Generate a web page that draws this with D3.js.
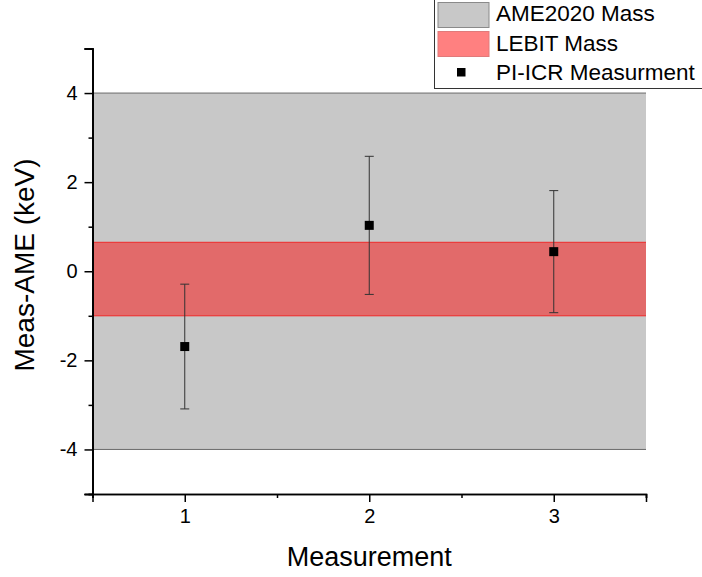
<!DOCTYPE html>
<html>
<head>
<meta charset="utf-8">
<script src="https://cdn.jsdelivr.net/npm/d3@7"></script>
<style>
  html, body { margin: 0; padding: 0; background: #fff; }
  svg { display: block; font-family: "Liberation Sans", Arial, sans-serif; }
</style>
</head>
<body>
<svg id="chart" width="702" height="577"></svg>
<script>
// ---- data ----
const categories = [1, 2, 3];
const values = [-1.69, 1.03, 0.44];
const errors = [1.40, 1.55, 1.37];
const ameRange = [-4, 4];
const lebitRange = [-1.0, 0.65];
const yTickLabels = [-4, -2, 0, 2, 4];
const yMinorTicks = [-5, -3, -1, 1, 3, 5];
const xTickLabels = [1, 2, 3];
const xMinorTicks = [0.5, 1.5, 2.5, 3.5];
const legendLabels = ["AME2020 Mass", "LEBIT Mass", "PI-ICR Measurment"];

// ---- layout ----
const svg = d3.select("#chart");
const x = d3.scaleLinear().domain([0.5, 3.5]).range([92.5, 646]);
const y = d3.scaleLinear().domain([-5, 5]).range([494, 48.5]);
const fmt = d => String(d);

// bands
svg.append("rect")
  .attr("x", x(0.5)).attr("width", x(3.5) - x(0.5))
  .attr("y", y(ameRange[1])).attr("height", y(ameRange[0]) - y(ameRange[1]))
  .attr("fill", "#c8c8c8");
[ameRange[0], ameRange[1]].forEach(v => {
  svg.append("line").attr("x1", x(0.5)).attr("x2", x(3.5))
    .attr("y1", y(v)).attr("y2", y(v))
    .attr("stroke", "#6a6a6a").attr("stroke-width", 1);
});
svg.append("rect")
  .attr("x", x(0.5)).attr("width", x(3.5) - x(0.5))
  .attr("y", y(lebitRange[1])).attr("height", y(lebitRange[0]) - y(lebitRange[1]))
  .attr("fill", "#ff0000").attr("fill-opacity", 0.47);
[lebitRange[0], lebitRange[1]].forEach(v => {
  svg.append("line").attr("x1", x(0.5)).attr("x2", x(3.5))
    .attr("y1", y(v)).attr("y2", y(v))
    .attr("stroke", "#f02828").attr("stroke-width", 1);
});

// error bars
const pts = categories.map((c, i) => ({ c, v: values[i], e: errors[i] }));
const eb = svg.append("g").attr("stroke", "#333").attr("stroke-width", 1);
pts.forEach(p => {
  eb.append("line").attr("x1", x(p.c)).attr("x2", x(p.c))
    .attr("y1", y(p.v + p.e)).attr("y2", y(p.v - p.e));
  [p.v + p.e, p.v - p.e].forEach(v => {
    eb.append("line").attr("x1", x(p.c) - 4.5).attr("x2", x(p.c) + 4.5)
      .attr("y1", y(v)).attr("y2", y(v));
  });
});
svg.append("g").selectAll("rect").data(pts).join("rect")
  .attr("x", d => x(d.c) - 4.5).attr("y", d => y(d.v) - 4.5)
  .attr("width", 9).attr("height", 9).attr("fill", "#000");

// axes
svg.append("g").attr("transform", `translate(${x(0.5)},0)`)
  .call(d3.axisLeft(y).tickValues(yTickLabels).tickSize(8).tickPadding(7).tickFormat(fmt));
svg.append("g").attr("transform", `translate(${x(0.5)},0)`)
  .call(d3.axisLeft(y).tickValues(yMinorTicks).tickSize(4).tickFormat(""));
svg.append("g").attr("transform", `translate(${x(0.5)},0)`)
  .call(d3.axisLeft(y).tickValues([-5, 5]).tickSize(8).tickFormat(""));

svg.append("g").attr("transform", `translate(0,${y(-5)})`)
  .call(d3.axisBottom(x).tickValues(xTickLabels).tickSize(8).tickPadding(7).tickFormat(fmt));
svg.append("g").attr("transform", `translate(0,${y(-5)})`)
  .call(d3.axisBottom(x).tickValues(xMinorTicks).tickSize(4).tickFormat(""));

svg.selectAll(".domain").attr("stroke", "#000").attr("stroke-width", 1.5);
svg.selectAll(".tick line").attr("stroke", "#000").attr("stroke-width", 1.5);
svg.selectAll(".tick text")
  .style("font-size", "20px").style("font-family", "'Liberation Sans', Arial, sans-serif")
  .attr("fill", "#000");

// axis titles
svg.append("text").attr("x", (x(0.5) + x(3.5)) / 2).attr("y", 566)
  .attr("text-anchor", "middle").style("font-size", "27px").attr("fill", "#000")
  .text("Measurement");
svg.append("text").attr("transform", `translate(34,265) rotate(-90)`)
  .attr("text-anchor", "middle").style("font-size", "28px").attr("fill", "#000")
  .text("Meas-AME (keV)");

// legend
const lg = svg.append("g");
lg.append("rect").attr("x", 434.5).attr("y", -5).attr("width", 280).attr("height", 93.5)
  .attr("fill", "#fff").attr("stroke", "#333").attr("stroke-width", 1);
lg.append("rect").attr("x", 438).attr("y", 2.5).attr("width", 51).attr("height", 25)
  .attr("fill", "#c8c8c8").attr("stroke", "#8a8a8a").attr("stroke-width", 1);
lg.append("rect").attr("x", 438).attr("y", 31.5).attr("width", 51).attr("height", 25)
  .attr("fill", "#ff8080").attr("stroke", "#e07a7a").attr("stroke-width", 1);
lg.append("rect").attr("x", 457).attr("y", 68).attr("width", 8.5).attr("height", 8.5)
  .attr("fill", "#000");
const lgY = [21, 50.5, 79.5];
legendLabels.forEach((t, i) => {
  lg.append("text").attr("x", 496).attr("y", lgY[i]).style("font-size", "22.5px")
    .attr("fill", "#000").text(t);
});
</script>
</body>
</html>
